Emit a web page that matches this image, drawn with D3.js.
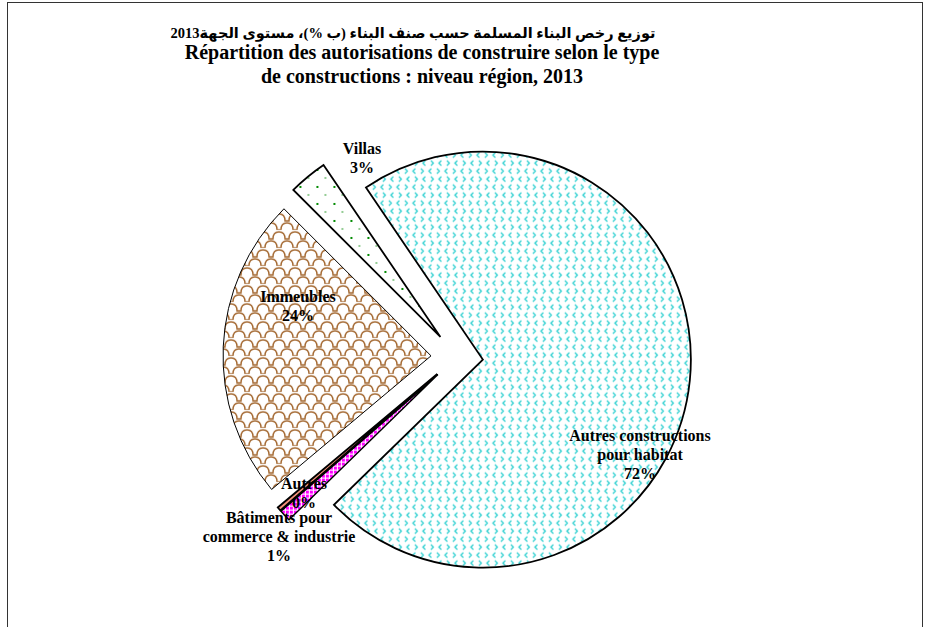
<!DOCTYPE html>
<html>
<head>
<meta charset="utf-8">
<script src="https://cdn.jsdelivr.net/npm/d3@7"></script>
<style>
  body { margin: 0; background: #fff; }
  text { font-family: "Liberation Serif", "DejaVu Sans", serif; font-weight: bold; fill: #000; }
</style>
</head>
<body>
<script>
// slices, clockwise from the upper-left (Excel start angle 315deg)
var categories = ["Villas", "Autres constructions\npour habitat", "Bâtiments pour\ncommerce & industrie", "Autres", "Immeubles"];
var values = [3.0, 72.2, 0.9, 0.3, 23.6];
var titleLines = [
  "توزيع رخص البناء المسلمة حسب صنف البناء (ب %)، مستوى الجهة2013",
  "Répartition des autorisations de construire selon le type",
  "de constructions : niveau région, 2013"
];

var width = 935, height = 627;
var cx = 457, cy = 357, radius = 208, explode = 26;

// label block centres, relative to the pie centre
var labelAt = [[-95, -199], [183, 98], [-178, 180], [-153, 136], [-159, -51]];
var fills = ["url(#pVillas)", "url(#pHabitat)", "url(#pCommerce)", "#f4937a", "url(#pImmeubles)"];
var strokeW = [1.8, 1.8, 1.4, 1.8, 1];

var svg = d3.select("body").append("svg")
    .attr("width", width)
    .attr("height", height);

// chart area frame
svg.append("rect")
    .attr("x", 7.5).attr("y", 2.5)
    .attr("width", 915).attr("height", 660)
    .attr("fill", "none")
    .attr("stroke", "#333");

var defs = svg.append("defs");

// cyan chevrons
var p1 = defs.append("pattern").attr("id", "pHabitat")
    .attr("patternUnits", "userSpaceOnUse").attr("width", 16).attr("height", 16);
p1.append("path")
    .attr("d", "M2,1L4.5,3.5L2,6 M12.5,1L10,3.5L12.5,6 M6.5,9L4,11.5L6.5,14 M12,9L14.5,11.5L12,14")
    .attr("fill", "none").attr("stroke", "#2ccfd0").attr("stroke-width", 1.3);

// brown scales
var p2 = defs.append("pattern").attr("id", "pImmeubles")
    .attr("patternUnits", "userSpaceOnUse").attr("width", 16).attr("height", 18);
p2.append("path")
    .attr("d", "M0,9L2,9Q2,2 8,2Q14,2 14,9L16,9 M-8,18L-6,18Q-6,11 0,11Q6,11 6,18L10,18Q10,11 16,11Q22,11 22,18")
    .attr("fill", "none").attr("stroke", "#a3672f").attr("stroke-width", 1.4);

// green dots
var p3 = defs.append("pattern").attr("id", "pVillas")
    .attr("patternUnits", "userSpaceOnUse").attr("width", 17).attr("height", 17);
p3.append("rect").attr("x", 12).attr("y", 2).attr("width", 2).attr("height", 2).attr("fill", "#008a00");
p3.append("rect").attr("x", 3).attr("y", 10.5).attr("width", 2).attr("height", 1).attr("fill", "#2a9a2a");

// magenta
var p4 = defs.append("pattern").attr("id", "pCommerce")
    .attr("patternUnits", "userSpaceOnUse").attr("width", 4).attr("height", 4);
p4.append("rect").attr("width", 4).attr("height", 4).attr("fill", "#fff");
p4.append("rect").attr("width", 3).attr("height", 3).attr("fill", "#ff00ff");

var pie = d3.pie()
    .sort(null)
    .startAngle(-Math.PI / 4)
    .endAngle(-Math.PI / 4 + 2 * Math.PI);

var arc = d3.arc()
    .innerRadius(0)
    .outerRadius(radius);

var arcs = pie(values);

var g = svg.append("g")
    .attr("transform", "translate(" + cx + "," + cy + ")");

g.selectAll(".slice")
    .data(arcs)
  .enter().append("path")
    .attr("class", "slice")
    .attr("transform", function(d) {
      var a = (d.startAngle + d.endAngle) / 2;
      return "translate(" + (explode * Math.sin(a)) + "," + (-explode * Math.cos(a)) + ")";
    })
    .attr("d", arc)
    .attr("fill", function(d, i) { return fills[i]; })
    .attr("stroke", "#000")
    .attr("stroke-width", function(d, i) { return strokeW[i]; })
    .attr("stroke-linejoin", "miter");

// data labels
var lineH = 19;
var labels = g.selectAll(".lbl")
    .data(arcs)
  .enter().append("text")
    .attr("class", "lbl")
    .attr("text-anchor", "middle")
    .style("font-size", "16px");

labels.each(function(d, i) {
  var lines = categories[i].split("\n").concat([d3.format(".0f")(values[i]) + "%"]);
  var y0 = labelAt[i][1] - (lines.length - 1) * lineH / 2 + 5;
  d3.select(this).selectAll("tspan")
      .data(lines)
    .enter().append("tspan")
      .attr("x", labelAt[i][0])
      .attr("y", function(l, j) { return y0 + j * lineH; })
      .text(function(l) { return l; });
});

// title
svg.append("text")
    .attr("x", 413).attr("y", 38)
    .attr("text-anchor", "middle")
    .attr("direction", "rtl")
    .style("font-size", "14.5px")
    .text(titleLines[0]);

svg.selectAll(".title")
    .data(titleLines.slice(1))
  .enter().append("text")
    .attr("class", "title")
    .attr("x", 422)
    .attr("y", function(d, i) { return 59 + i * 24; })
    .attr("text-anchor", "middle")
    .style("font-size", "20px")
    .text(function(d) { return d; });
</script>
</body>
</html>
